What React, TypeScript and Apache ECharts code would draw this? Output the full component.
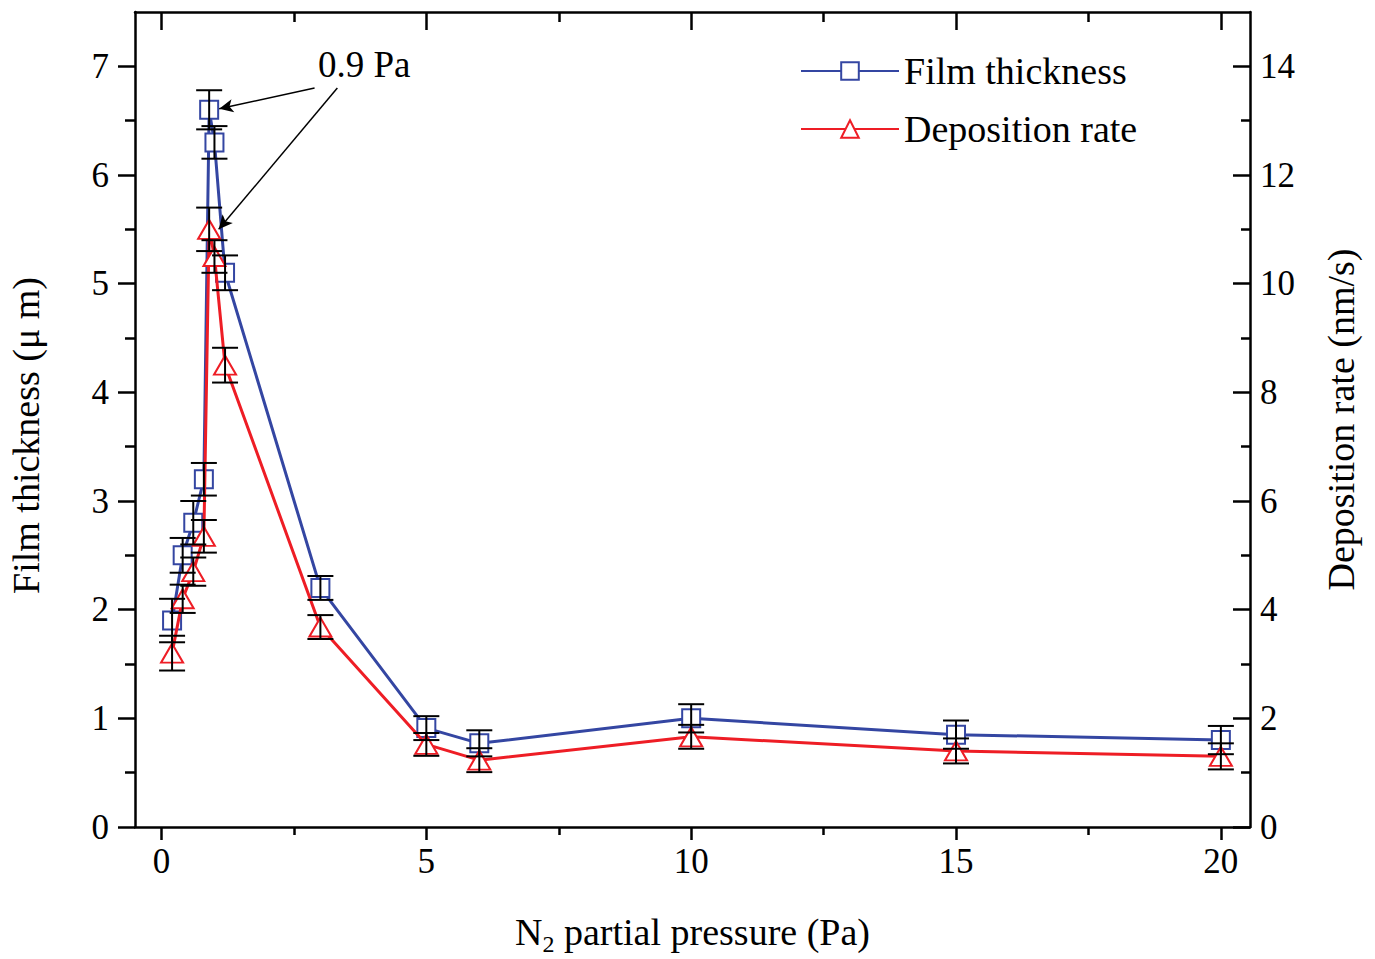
import React, { useEffect, useRef } from "react";
import * as echarts from "echarts";

const pressure = [0.2, 0.4, 0.6, 0.8, 0.9, 1.0, 1.2, 3, 5, 6, 10, 15, 20];
const thickness = [1.9, 2.5, 2.8, 3.2, 6.6, 6.3, 5.1, 2.2, 0.91, 0.77, 1.0, 0.85, 0.8];
const thicknessErr = [0.2, 0.16, 0.2, 0.15, 0.18, 0.15, 0.16, 0.11, 0.11, 0.12, 0.13, 0.13, 0.13];
const rate = [3.2, 4.2, 4.7, 5.35, 11.0, 10.5, 8.5, 3.68, 1.52, 1.23, 1.66, 1.4, 1.3];
const rateErr = [0.32, 0.26, 0.26, 0.3, 0.4, 0.3, 0.32, 0.22, 0.21, 0.22, 0.22, 0.23, 0.24];

const xMajorTicks = [0, 5, 10, 15, 20];
const xMinorTicks = [2.5, 7.5, 12.5, 17.5];
const leftMajorTicks = [0, 1, 2, 3, 4, 5, 6, 7];
const leftMinorTicks = [0.5, 1.5, 2.5, 3.5, 4.5, 5.5, 6.5];
const rightMajorTicks = [0, 2, 4, 6, 8, 10, 12, 14];
const rightMinorTicks = [1, 3, 5, 7, 9, 11, 13];

// annotation arrows (data coordinates)
const arrowThickness = [[2.89, 6.8], [1.09, 6.61]];
const arrowRate = [[3.32, 13.6], [1.08, 11.0]];

const FONT = "'Liberation Serif', 'Times New Roman', serif";
const BLUE = "#3446a2";
const RED = "#ee1d25";

function errorBar(params: any, api: any) {
  const x = api.value(0);
  const lo = api.coord([x, api.value(1)]);
  const hi = api.coord([x, api.value(2)]);
  const hw = 13;
  const style = { stroke: "#000", lineWidth: 2 };
  return {
    type: "group",
    children: [
      { type: "line", shape: { x1: hi[0], y1: hi[1], x2: lo[0], y2: lo[1] }, style },
      { type: "line", shape: { x1: hi[0] - hw, y1: hi[1], x2: hi[0] + hw, y2: hi[1] }, style },
      { type: "line", shape: { x1: lo[0] - hw, y1: lo[1], x2: lo[0] + hw, y2: lo[1] }, style },
    ],
  };
}

export default function App() {
  const ref = useRef<HTMLDivElement>(null);
  useEffect(() => {
    if (!ref.current) return;
    const chart = echarts.init(ref.current, null, { renderer: "svg" });
    const axisLine = { show: true, onZero: false, lineStyle: { color: "#000", width: 2.5 } };
    const noLine = { show: false, onZero: false };
    const tickStyle = { color: "#000", width: 2.5 };
    const xMin = -0.5;
    const xMax = 20.55;
    const option: any = {
      animation: false,
      backgroundColor: "#fff",
      grid: { left: 135, right: 125, top: 12, bottom: 132, containLabel: false, outerBoundsMode: "none" },
      legend: {
        orient: "vertical",
        left: 800,
        top: 52,
        padding: 0,
        itemWidth: 98,
        itemHeight: 22,
        itemGap: 20,
        data: ["Film thickness", "Deposition rate"],
        textStyle: { fontSize: 38, fontFamily: FONT, color: "#000" },
      },
      graphic: [
        {
          type: "text",
          left: 318,
          top: 46,
          style: { text: "0.9 Pa", fontSize: 37, fontFamily: FONT, fill: "#000" },
        },
      ],
      xAxis: [
        {
          type: "value",
          position: "bottom",
          min: xMin,
          max: xMax,
          splitLine: { show: false },
          axisLine,
          axisTick: { show: true, customValues: xMajorTicks, length: 13, inside: false, lineStyle: tickStyle },
          axisLabel: { customValues: xMajorTicks, fontSize: 35, fontFamily: FONT, color: "#000", margin: 17 },
          name: "N{sub|2} partial pressure (Pa)",
          nameLocation: "middle",
          nameGap: 81,
          nameTextStyle: {
            fontSize: 38,
            fontFamily: FONT,
            color: "#000",
            rich: { sub: { fontSize: 24, fontFamily: FONT, color: "#000", padding: [24, 0, 0, 0] } },
          },
        },
        {
          type: "value",
          position: "bottom",
          min: xMin,
          max: xMax,
          splitLine: { show: false },
          axisLine: noLine,
          axisTick: { show: true, customValues: xMinorTicks, length: 8, lineStyle: tickStyle },
          axisLabel: { show: false },
        },
        {
          type: "value",
          position: "top",
          min: xMin,
          max: xMax,
          splitLine: { show: false },
          axisLine,
          axisTick: { show: true, customValues: xMajorTicks, length: 18, inside: true, lineStyle: tickStyle },
          axisLabel: { show: false },
        },
        {
          type: "value",
          position: "top",
          min: xMin,
          max: xMax,
          splitLine: { show: false },
          axisLine: noLine,
          axisTick: { show: true, customValues: xMinorTicks, length: 10, inside: true, lineStyle: tickStyle },
          axisLabel: { show: false },
        },
      ],
      yAxis: [
        {
          type: "value",
          position: "left",
          min: 0,
          max: 7.5,
          splitLine: { show: false },
          axisLine,
          axisTick: { show: true, customValues: leftMajorTicks, length: 17, lineStyle: tickStyle },
          axisLabel: { customValues: leftMajorTicks, fontSize: 35, fontFamily: FONT, color: "#000", margin: 26 },
          name: "Film thickness (μ m)",
          nameLocation: "middle",
          nameGap: 90,
          nameTextStyle: { fontSize: 38, fontFamily: FONT, color: "#000", padding: [0, 32, 0, 0] },
        },
        {
          type: "value",
          position: "right",
          min: 0,
          max: 15,
          splitLine: { show: false },
          axisLine,
          axisTick: { show: true, customValues: rightMajorTicks, length: 17, inside: true, lineStyle: tickStyle },
          axisLabel: { customValues: rightMajorTicks, fontSize: 35, fontFamily: FONT, color: "#000", margin: 10 },
          name: "Deposition rate (nm/s)",
          nameLocation: "middle",
          nameGap: 72,
          nameTextStyle: { fontSize: 38, fontFamily: FONT, color: "#000" },
        },
        {
          type: "value",
          position: "left",
          min: 0,
          max: 7.5,
          splitLine: { show: false },
          axisLine: noLine,
          axisTick: { show: true, customValues: leftMinorTicks, length: 10, lineStyle: tickStyle },
          axisLabel: { show: false },
        },
        {
          type: "value",
          position: "right",
          min: 0,
          max: 15,
          splitLine: { show: false },
          axisLine: noLine,
          axisTick: { show: true, customValues: rightMinorTicks, length: 9, inside: true, lineStyle: tickStyle },
          axisLabel: { show: false },
        },
      ],
      series: [
        {
          name: "Film thickness",
          type: "line",
          xAxisIndex: 0,
          yAxisIndex: 0,
          data: pressure.map((p, i) => [p, thickness[i]]),
          symbol: "rect",
          symbolSize: 18,
          lineStyle: { color: BLUE, width: 3 },
          itemStyle: { color: "#fff", borderColor: BLUE, borderWidth: 2 },
          z: 2,
          markLine: {
            silent: true,
            symbol: ["none", "arrow"],
            symbolSize: [10, 14],
            lineStyle: { color: "#000", width: 1.5, type: "solid" },
            label: { show: false },
            data: [[{ coord: arrowThickness[0] }, { coord: arrowThickness[1] }]],
          },
        },
        {
          name: "Deposition rate",
          type: "line",
          xAxisIndex: 0,
          yAxisIndex: 1,
          data: pressure.map((p, i) => [p, rate[i]]),
          symbol: "triangle",
          symbolSize: [22, 19],
          lineStyle: { color: RED, width: 3 },
          itemStyle: { color: "#fff", borderColor: RED, borderWidth: 2 },
          z: 3,
          markLine: {
            silent: true,
            symbol: ["none", "arrow"],
            symbolSize: [10, 14],
            lineStyle: { color: "#000", width: 1.5, type: "solid" },
            label: { show: false },
            data: [[{ coord: arrowRate[0] }, { coord: arrowRate[1] }]],
          },
        },
        {
          name: "thicknessErr",
          type: "custom",
          xAxisIndex: 0,
          yAxisIndex: 0,
          renderItem: errorBar,
          encode: { x: 0, y: [1, 2] },
          data: pressure.map((p, i) => [p, thickness[i] - thicknessErr[i], thickness[i] + thicknessErr[i]]),
          z: 5,
          silent: true,
        },
        {
          name: "rateErr",
          type: "custom",
          xAxisIndex: 0,
          yAxisIndex: 1,
          renderItem: errorBar,
          encode: { x: 0, y: [1, 2] },
          data: pressure.map((p, i) => [p, rate[i] - rateErr[i], rate[i] + rateErr[i]]),
          z: 5,
          silent: true,
        },
      ],
    };
    chart.setOption(option);
    return () => chart.dispose();
  }, []);
  return (
    <div
      ref={ref}
      style={{ position: "fixed", left: 0, top: 0, width: 1375, height: 959, background: "#fff" }}
    />
  );
}
